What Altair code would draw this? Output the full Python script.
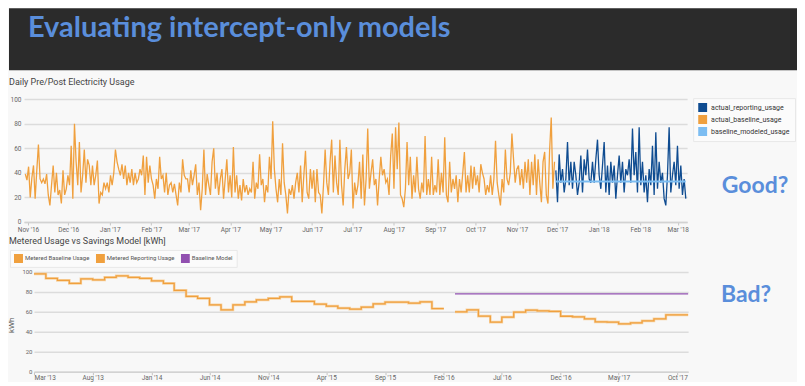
import altair as alt
import pandas as pd

TITLE = "Evaluating intercept-only models"
GOOD = "Good?"
BAD = "Bad?"
CHART1_TITLE = "Daily Pre/Post Electricity Usage"
CHART2_TITLE = "Metered Usage vs Savings Model [kWh]"
ACCENT = "#5a8edb"

# ---------------- chart 1 : daily usage ----------------
series1 = ["actual_reporting_usage", "actual_baseline_usage", "baseline_modeled_usage"]
colors1 = ["#0f4c91", "#f0a03e", "#7cbdf2"]

baseline_usage = [
    39, 34, 45, 20, 36, 46, 19, 42, 63, 35,
    32, 35, 31, 39, 22, 13.5, 30, 46, 24, 40,
    22, 26, 15, 42, 22, 27, 38, 30, 62, 19,
    80, 49, 30, 65, 24, 38, 59, 32, 51, 46,
    30, 46, 30, 38, 50, 15, 24, 22, 32, 27,
    32, 24, 38, 30, 40, 59, 49, 43, 38, 47,
    35, 46, 30, 40, 32, 43, 30, 40, 32, 35,
    43, 38, 54, 22, 53, 32, 46, 35, 30, 19,
    35, 27, 53, 35, 38, 24, 40, 22, 30, 32,
    24, 31, 22, 13.5, 32, 24, 51, 38, 35,
    35, 24, 42, 30, 38, 47, 22, 32, 9.5, 27,
    59, 22, 39, 30, 22, 49, 60, 27, 40, 22,
    35, 43, 19, 35, 51, 24, 38, 20, 61, 24,
    38, 19, 30, 17.5, 35, 24, 30, 22, 27, 24,
    49, 19, 32, 27, 55, 30, 35, 16, 30, 24,
    53, 35, 82, 43, 27, 16, 35, 22, 64, 32,
    22, 7, 27, 22, 30, 19, 32, 40, 24, 46,
    16, 38, 58, 24, 19, 43, 27, 42, 16, 43,
    24, 22, 7, 30, 59, 32, 22, 49, 67, 24,
    54, 32, 22, 67, 30, 13.5, 43, 61, 35,
    40, 59, 11, 32, 22, 30, 49, 19, 55, 13.5,
    35, 76, 27, 40, 51, 30, 35, 13.5, 35, 53,
    38, 43, 32, 35, 22, 54, 72, 27, 77, 43,
    81, 22, 19, 12, 27, 65, 30, 53, 19, 38,
    24, 53, 27, 19, 32, 24, 70, 22, 35, 22,
    53, 22, 30, 24, 51, 22, 40, 24, 69, 22,
    16, 49, 24, 35, 27, 38, 16, 35, 24, 40,
    57, 24, 38, 24, 46, 27, 45, 30, 38, 24,
    47, 40, 35, 22, 30, 24, 38, 22, 35, 66,
    32, 22, 13.5, 35, 24, 59, 35, 30, 40, 72,
    51, 32, 43,
    46, 30, 43, 27, 49, 32, 51, 22, 49, 30,
    55, 22, 51, 32, 16, 49, 57, 22, 15, 58,
    85, 27, 49,
]
reporting_usage = [
    42, 16, 55, 32, 43, 24, 35, 65, 30, 49,
    27, 49, 38, 22, 32, 54, 24, 51, 38, 59,
    35, 32, 49, 32, 51, 67, 38, 27, 46, 65,
    24, 46, 22, 49, 32, 46, 19, 38, 54, 32,
    49, 24, 43, 38, 51, 32, 76, 38, 57, 24,
    77, 30, 49, 24, 38, 16, 43, 30, 62, 22,
    73, 27, 49, 32, 40, 19, 13.5, 38, 77, 24,
    38, 49, 30, 62, 27, 46, 22, 35, 19,
]
modeled_usage = 33

baseline_period = ("2016-10-30", "2017-11-29")
reporting_period = ("2017-11-30", "2018-03-07")
daily_domain = ("2016-10-29", "2018-03-08")
daily_ticks = ["2016-11-01", "2016-12-01", "2017-01-01", "2017-02-01", "2017-03-01",
               "2017-04-01", "2017-05-01", "2017-06-01", "2017-07-01", "2017-08-01",
               "2017-09-01", "2017-10-01", "2017-11-01", "2017-12-01", "2018-01-01",
               "2018-02-01", "2018-03-01"]
y_ticks = [0, 20, 40, 60, 80, 100]

# ---------------- chart 2 : monthly metered usage ----------------
series2 = ["Metered Baseline Usage", "Metered Reporting Usage", "Baseline Model"]
colors2 = ["#f0a03e", "#f0a03e", "#9150b0"]

baseline_start = "2013-03-01"
baseline_monthly = [98, 93.5, 91.5, 88.5, 93, 92, 94.5, 96, 94.5, 93.5,
                    91, 88.5, 81.5, 75.5, 73.5, 67, 62, 67, 70, 72, 73.5, 75,
                    70.5, 70.5, 67.7, 65.7, 63.7, 62.7, 64.7, 68, 69.7, 69.7, 68.7, 70,
                    63.3]
baseline_end = "2016-02-01"
reporting_start = "2016-03-01"
reporting_monthly = [60, 62, 55.7, 49.7, 54.7, 59.7, 61.7, 61, 60.5, 55.6,
                     55, 53, 50, 49.7, 48, 49, 51, 53, 57, 57]
reporting_end = "2017-10-29"
model_value = 78
monthly_domain = ("2013-03-01", "2017-10-29")
monthly_ticks = ["2013-03-01", "2013-08-01", "2014-01-01", "2014-06-01", "2014-11-01",
                 "2015-04-01", "2015-09-01", "2016-02-01", "2016-07-01", "2016-12-01",
                 "2017-05-01", "2017-10-01"]
kwh_axis_top = 121  # headroom above 100 kWh that holds the legend row

LABEL_FONT = "Roboto"


def dt(s):
    y, m, d = (int(p) for p in s.split("-"))
    return alt.DateTime(year=y, month=m, date=d, utc=True)


def iso(ts):
    return pd.Timestamp(ts).strftime("%Y-%m-%dT%H:%M:%SZ")


def spread(start, end, n):
    s, e = pd.Timestamp(start), pd.Timestamp(end)
    return [iso(s + (e - s) * i / (n - 1)) for i in range(n)]


def months(start, n):
    return [iso(t) for t in pd.date_range(start, periods=n, freq="MS")]


rows1 = (
    [{"date": d, "usage": v, "series": series1[1]}
     for d, v in zip(spread(*baseline_period, len(baseline_usage)), baseline_usage)]
    + [{"date": d, "usage": v, "series": series1[0]}
       for d, v in zip(spread(*reporting_period, len(reporting_usage)), reporting_usage)]
    + [{"date": iso(d), "usage": modeled_usage, "series": series1[2]} for d in reporting_period]
)
df1 = pd.DataFrame(rows1)

rows2 = (
    [{"date": d, "kwh": v, "series": series2[0]}
     for d, v in zip(months(baseline_start, len(baseline_monthly)), baseline_monthly)]
    + [{"date": iso(baseline_end), "kwh": baseline_monthly[-1], "series": series2[0]}]
    + [{"date": d, "kwh": v, "series": series2[1]}
       for d, v in zip(months(reporting_start, len(reporting_monthly)), reporting_monthly)]
    + [{"date": iso(reporting_end), "kwh": reporting_monthly[-1], "series": series2[1]}]
    + [{"date": iso(d), "kwh": model_value, "series": series2[2]} for d in (reporting_start, reporting_end)]
)
df2 = pd.DataFrame(rows2)


def big_text(text, x, y, size):
    return alt.Chart(pd.DataFrame({"t": [text]})).mark_text(
        font="Lato", fontWeight="bold", fontSize=size, color=ACCENT, align="left" if size > 25 else "center",
        baseline="alphabetic"
    ).encode(x=alt.value(x), y=alt.value(y), text="t:N")


# ---------------- header (with the side annotations) ----------------
header = alt.layer(
    big_text(TITLE, 19, 29, 29),
    big_text(GOOD, 747, 185, 23),
    big_text(BAD, 738, 294, 23),
).properties(width=789, height=62, view=alt.ViewBackground(fill="#2b2b2b", strokeWidth=0))

# ---------------- chart 1 ----------------
x1 = alt.X("date:T", title=None,
           scale=alt.Scale(type="utc", domain=[dt(daily_domain[0]), dt(daily_domain[1])], range=[15, 679]),
           axis=alt.Axis(values=[dt(s) for s in daily_ticks], format="%b '%y", grid=False,
                         domainColor="#d2d2d2", domainWidth=1.5, tickColor="#c4c4c4", tickSize=3,
                         labelFont=LABEL_FONT, labelFontSize=6.5, labelColor="#666666", labelPadding=2))
y1 = alt.Y("usage:Q", title=None, scale=alt.Scale(domain=[0, 100]),
           axis=alt.Axis(values=y_ticks, domain=False, ticks=False, gridColor="#dcdcdc", gridWidth=1.5,
                         offset=-15, labelFont=LABEL_FONT, labelFontSize=6.5, labelColor="#666666",
                         labelPadding=3))
color1 = alt.Color("series:N", scale=alt.Scale(domain=series1, range=colors1),
                   legend=alt.Legend(title=None, orient="none", legendX=685, legendY=-1,
                                     symbolType="square", symbolSize=16, symbolStrokeWidth=5,
                                     labelFont=LABEL_FONT, labelFontSize=7, labelColor="#333333",
                                     fillColor="#fbfbfb", strokeColor="#e8e8e8", padding=5,
                                     clipHeight=9, rowPadding=3, labelOffset=4))
base1 = alt.Chart(df1).encode(x=x1, y=y1, color=color1)
orange1 = base1.transform_filter(alt.datum.series == series1[1]).mark_line(strokeWidth=1.3)
blue1 = base1.transform_filter(alt.datum.series == series1[0]).mark_line(strokeWidth=1.3)
model1 = base1.transform_filter(alt.datum.series == series1[2]).mark_line(strokeWidth=2)

chart1 = alt.layer(orange1, blue1, model1).properties(
    width=679, height=123,
    title=alt.TitleParams(CHART1_TITLE, anchor="start", frame="group", offset=9, font=LABEL_FONT,
                          fontSize=9, fontWeight="normal", color="#444444"))

# ---------------- chart 2 ----------------
x2 = alt.X("date:T", title=None,
           scale=alt.Scale(type="utc", domain=[dt(monthly_domain[0]), dt(monthly_domain[1])], range=[25, 680]),
           axis=alt.Axis(values=[dt(s) for s in monthly_ticks], format="%b '%y", grid=False,
                         domainColor="#d2d2d2", domainWidth=1.5, tickColor="#c4c4c4", tickSize=3,
                         labelFont=LABEL_FONT, labelFontSize=6.5, labelColor="#666666", labelPadding=0))
y2 = alt.Y("kwh:Q", title="kWh", scale=alt.Scale(domain=[0, kwh_axis_top], nice=False),
           axis=alt.Axis(values=y_ticks, domain=False, ticks=False, gridColor="#dcdcdc", gridWidth=1.5,
                         offset=-25, labelFont=LABEL_FONT, labelFontSize=6, labelColor="#666666",
                         labelPadding=2, titleX=-18, titleY=74, titleFont=LABEL_FONT, titleFontSize=8,
                         titleFontWeight="normal", titleColor="#555555"))
color2 = alt.Color("series:N", scale=alt.Scale(domain=series2, range=colors2),
                   legend=alt.Legend(title=None, orient="none", direction="horizontal",
                                     legendX=1, legendY=-1, symbolType="square", symbolSize=16,
                                     symbolStrokeWidth=5, labelFont=LABEL_FONT, labelFontSize=6,
                                     labelColor="#555555", fillColor="#fbfbfb", strokeColor="#e8e8e8",
                                     padding=4, clipHeight=9, columnPadding=6, labelOffset=2))
base2 = alt.Chart(df2).encode(x=x2, y=y2)
halo2 = base2.transform_filter(alt.datum.series != series2[2]).mark_line(
    interpolate="step-after", color="#f7d3a3", strokeWidth=2.6).encode(detail="series:N")
steps2 = base2.transform_filter(alt.datum.series != series2[2]).mark_line(
    interpolate="step-after", strokeWidth=1.3).encode(color=color2)
model2 = base2.transform_filter(alt.datum.series == series2[2]).mark_line(strokeWidth=1.5).encode(color=color2)

chart2 = alt.layer(halo2, steps2, model2).properties(
    width=680, height=121,
    title=alt.TitleParams(CHART2_TITLE, anchor="start", frame="group", offset=3, font=LABEL_FONT,
                          fontSize=9, fontWeight="normal", color="#444444"))

chart = alt.vconcat(header, chart1, chart2, spacing=29, bounds="flush").resolve_scale(
    color="independent", x="independent", y="independent"
).properties(background="#f8f8f8", padding=0).configure_view(strokeWidth=0)

chart.save("out.html", embed_options={"renderer": "svg", "actions": False})
